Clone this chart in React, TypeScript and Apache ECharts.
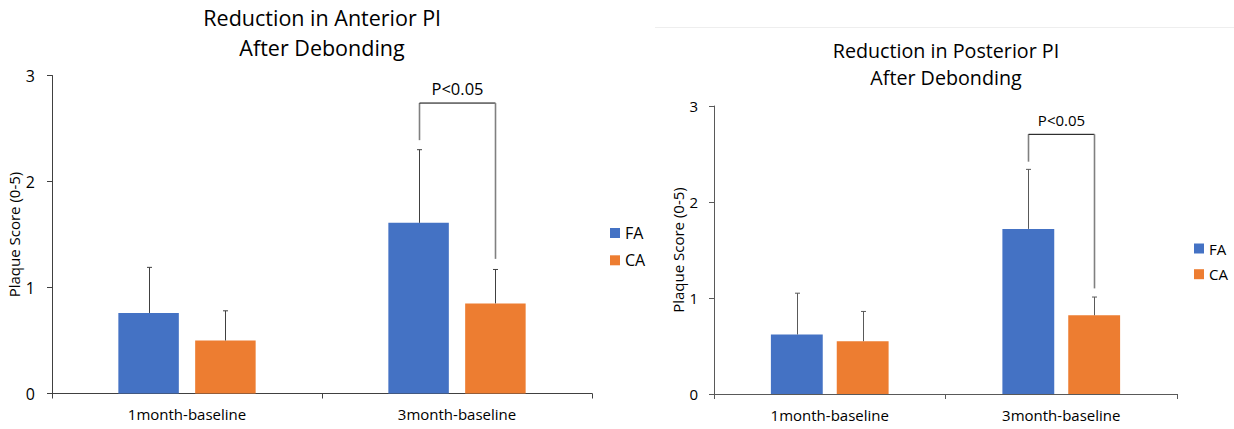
import React, { useEffect, useRef } from "react";
import * as echarts from "echarts";

const categories = ["1month-baseline", "3month-baseline"];
const groupNames = ["FA", "CA"];
const colors = ["#4472C4", "#ED7D31"];

// Anterior (left chart)
const anteriorFA = [0.76, 1.61];
const anteriorCA = [0.5, 0.85];
const anteriorFAErrTop = [1.19, 2.3];
const anteriorCAErrTop = [0.78, 1.17];
// bracket: [left start, top, right end], label y
const anteriorBracket = [2.39, 2.74, 1.27];
const anteriorPY = 2.88;

// Posterior (right chart)
const posteriorFA = [0.62, 1.72];
const posteriorCA = [0.55, 0.82];
const posteriorFAErrTop = [1.05, 2.34];
const posteriorCAErrTop = [0.86, 1.01];
const posteriorBracket = [2.42, 2.705, 1.1];
const posteriorPY = 2.85;

const pLabel = "P<0.05";
const yTicks = [0, 1, 2, 3];

const FONT = "'Open Sans', Lato, sans-serif";
const BAR_W = 0.224;
const BAR_GAP = 0.27;

function errRender(sign: number, color: string) {
  return (params: any, api: any) => {
    const idx = api.value(0);
    const base = api.coord([idx, api.value(1)]);
    const top = api.coord([idx, api.value(2)]);
    const band = api.size([1, 0])[0];
    const bw = band * BAR_W;
    const gap = bw * BAR_GAP;
    const cx = Math.round(base[0] + (sign * (bw + gap)) / 2) + 0.5;
    return {
      type: "group",
      children: [
        { type: "line", shape: { x1: cx, y1: base[1], x2: cx, y2: top[1] }, style: { stroke: color, lineWidth: 1 } },
        { type: "line", shape: { x1: cx - 2.5, y1: top[1], x2: cx + 2.5, y2: top[1] }, style: { stroke: color, lineWidth: 1 } },
      ],
    };
  };
}

function bracketRender(vColor: string, fontSize: number) {
  return (params: any, api: any) => {
    const idx = api.value(0);
    const c0 = api.coord([idx, api.value(1)]);
    const cTop = api.coord([idx, api.value(2)]);
    const cEnd = api.coord([idx, api.value(3)]);
    const cText = api.coord([idx, api.value(4)]);
    const band = api.size([1, 0])[0];
    const bw = band * BAR_W;
    const gap = bw * BAR_GAP;
    const xl = Math.round(c0[0] - (bw + gap) / 2) + 0.5;
    const xr = Math.round(c0[0] + (bw + gap) / 2) + 0.5;
    return {
      type: "group",
      children: [
        { type: "line", shape: { x1: xl, y1: c0[1], x2: xl, y2: cTop[1] }, style: { stroke: vColor, lineWidth: 1.6 } },
        { type: "line", shape: { x1: xl, y1: cTop[1], x2: xr, y2: cTop[1] }, style: { stroke: "#000", lineWidth: 1 } },
        { type: "line", shape: { x1: xr, y1: cTop[1], x2: xr, y2: cEnd[1] }, style: { stroke: vColor, lineWidth: 1.6 } },
        {
          type: "text",
          style: {
            text: pLabel,
            x: (xl + xr) / 2,
            y: cText[1],
            align: "center",
            verticalAlign: "middle",
            fontSize,
            fontFamily: FONT,
            fill: "#000",
          },
        },
      ],
    };
  };
}

export default function App() {
  const ref = useRef<HTMLDivElement>(null);
  useEffect(() => {
    document.body.style.margin = "0";
    const chart = echarts.init(ref.current!, null, { renderer: "svg" });

    const mkX = (gi: number, axisColor: string, fs: number) => ({
      type: "category",
      gridIndex: gi,
      data: categories,
      axisLine: { lineStyle: { color: axisColor, width: 1 } },
      axisTick: { show: true, length: 5, interval: 0, lineStyle: { color: axisColor } },
      axisLabel: { fontSize: fs, color: "#000", margin: 13, interval: 0, fontFamily: FONT },
    });
    const mkY = (gi: number, axisColor: string, fs: number, nameGap: number, labelMargin: number) => ({
      type: "value",
      gridIndex: gi,
      min: yTicks[0],
      max: yTicks[yTicks.length - 1],
      interval: 1,
      splitLine: { show: false },
      axisLine: { show: true, lineStyle: { color: axisColor, width: 1 } },
      axisTick: { show: true, length: 5, lineStyle: { color: axisColor } },
      axisLabel: { fontSize: fs, color: "#000", margin: labelMargin, fontFamily: FONT },
      name: "Plaque Score (0-5)",
      nameLocation: "middle",
      nameGap,
      nameTextStyle: { fontSize: 15, color: "#000", fontFamily: FONT },
    });

    const barSeries = (name: string, data: number[], gi: number, color: string) => ({
      type: "bar",
      name,
      xAxisIndex: gi,
      yAxisIndex: gi,
      data,
      barWidth: BAR_W * 100 + "%",
      barGap: BAR_GAP * 100 + "%",
      itemStyle: { color },
      z: 2,
    });

    const errSeries = (vals: number[], tops: number[], gi: number, sign: number, color: string) => ({
      type: "custom",
      name: "err",
      xAxisIndex: gi,
      yAxisIndex: gi,
      data: vals.map((v, i) => [i, v, tops[i]]),
      encode: { x: 0, y: [1, 2] },
      renderItem: errRender(sign, color),
      z: 3,
      silent: true,
    });

    const bracketSeries = (br: number[], py: number, gi: number, vColor: string, fs: number) => ({
      type: "custom",
      name: "bracket",
      xAxisIndex: gi,
      yAxisIndex: gi,
      data: [[1, br[0], br[1], br[2], py]],
      encode: { x: 0, y: [1, 2, 3, 4] },
      renderItem: bracketRender(vColor, fs),
      z: 4,
      silent: true,
    });

    chart.setOption({
      animation: false,
      textStyle: { fontFamily: FONT },
      title: [
        {
          text: "Reduction in Anterior Pl\nAfter Debonding",
          left: 322,
          top: 2,
          padding: 0,
          textAlign: "center",
          textStyle: { fontSize: 21.5, fontWeight: "normal", color: "#000", lineHeight: 30, fontFamily: FONT },
        },
        {
          text: "Reduction in Posterior PI\nAfter Debonding",
          left: 946,
          top: 37,
          padding: 0,
          textAlign: "center",
          textStyle: { fontSize: 19.7, fontWeight: "normal", color: "#000", lineHeight: 26.7, fontFamily: FONT },
        },
      ],
      legend: [
        {
          data: groupNames,
          orient: "vertical",
          left: 610,
          top: 224,
          padding: 0,
          itemWidth: 10,
          itemHeight: 10,
          itemGap: 9.3,
          icon: "rect",
          textStyle: { fontSize: 16, lineHeight: 18, color: "#000", fontFamily: FONT },
          selectedMode: false,
        },
        {
          data: groupNames,
          orient: "vertical",
          left: 1194,
          top: 240,
          padding: 0,
          itemWidth: 10,
          itemHeight: 10,
          itemGap: 8.7,
          icon: "rect",
          textStyle: { fontSize: 15, lineHeight: 17, color: "#000", fontFamily: FONT },
          selectedMode: false,
        },
      ],
      grid: [
        { left: 52, top: 75.5, width: 540, height: 318, containLabel: false },
        { left: 714, top: 106, width: 463, height: 288, containLabel: false },
      ],
      xAxis: [mkX(0, "#404040", 15), mkX(1, "#595959", 15)],
      yAxis: [mkY(0, "#404040", 16, 31, 17), mkY(1, "#595959", 15, 28, 16)],
      graphic: [
        {
          type: "line",
          shape: { x1: 655, y1: 27.5, x2: 1234, y2: 27.5 },
          style: { stroke: "#eeeeee", lineWidth: 1 },
          silent: true,
        },
      ],
      series: [
        barSeries("FA", anteriorFA, 0, colors[0]),
        barSeries("CA", anteriorCA, 0, colors[1]),
        errSeries(anteriorFA, anteriorFAErrTop, 0, -1, "#404040"),
        errSeries(anteriorCA, anteriorCAErrTop, 0, 1, "#404040"),
        bracketSeries(anteriorBracket, anteriorPY, 0, "#808080", 16.5),
        barSeries("FA", posteriorFA, 1, colors[0]),
        barSeries("CA", posteriorCA, 1, colors[1]),
        errSeries(posteriorFA, posteriorFAErrTop, 1, -1, "#595959"),
        errSeries(posteriorCA, posteriorCAErrTop, 1, 1, "#595959"),
        bracketSeries(posteriorBracket, posteriorPY, 1, "#808080", 15),
      ],
    });
    return () => chart.dispose();
  }, []);
  return <div ref={ref} style={{ width: 1234, height: 429 }} />;
}
